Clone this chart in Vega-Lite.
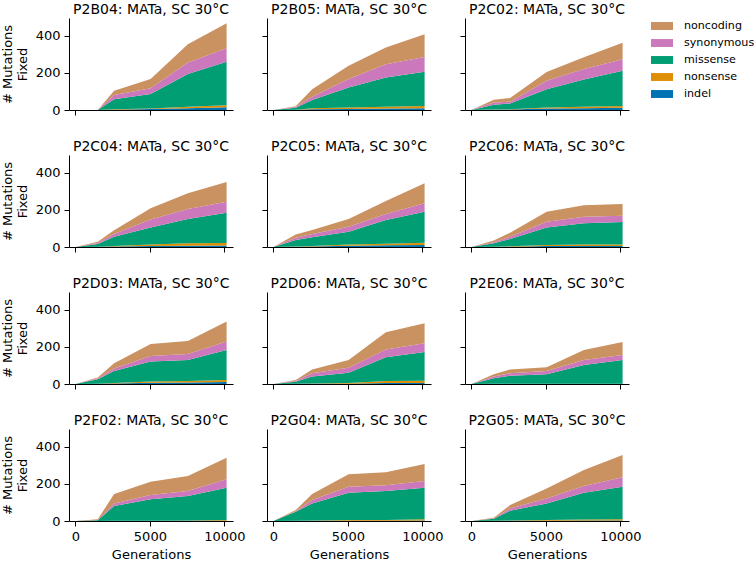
{
"$schema": "https://vega.github.io/schema/vega-lite/v6.json",
"padding": {"left": 1, "top": 3, "right": 0, "bottom": 0},
"background": "white",
"data": {"values": [
{"p":"P2B04","g":0,"t":"indel","v":0},{"p":"P2B04","g":0,"t":"nonsense","v":0},{"p":"P2B04","g":0,"t":"missense","v":0},{"p":"P2B04","g":0,"t":"synonymous","v":0},{"p":"P2B04","g":0,"t":"noncoding","v":0},
{"p":"P2B04","g":1500,"t":"indel","v":0},{"p":"P2B04","g":1500,"t":"nonsense","v":0},{"p":"P2B04","g":1500,"t":"missense","v":0},{"p":"P2B04","g":1500,"t":"synonymous","v":0},{"p":"P2B04","g":1500,"t":"noncoding","v":0},
{"p":"P2B04","g":2600,"t":"indel","v":2},{"p":"P2B04","g":2600,"t":"nonsense","v":2},{"p":"P2B04","g":2600,"t":"missense","v":54},{"p":"P2B04","g":2600,"t":"synonymous","v":23},{"p":"P2B04","g":2600,"t":"noncoding","v":23},
{"p":"P2B04","g":5050,"t":"indel","v":5},{"p":"P2B04","g":5050,"t":"nonsense","v":3},{"p":"P2B04","g":5050,"t":"missense","v":78},{"p":"P2B04","g":5050,"t":"synonymous","v":31},{"p":"P2B04","g":5050,"t":"noncoding","v":50},
{"p":"P2B04","g":7550,"t":"indel","v":10},{"p":"P2B04","g":7550,"t":"nonsense","v":8},{"p":"P2B04","g":7550,"t":"missense","v":176},{"p":"P2B04","g":7550,"t":"synonymous","v":62},{"p":"P2B04","g":7550,"t":"noncoding","v":99},
{"p":"P2B04","g":10150,"t":"indel","v":15},{"p":"P2B04","g":10150,"t":"nonsense","v":10},{"p":"P2B04","g":10150,"t":"missense","v":236},{"p":"P2B04","g":10150,"t":"synonymous","v":72},{"p":"P2B04","g":10150,"t":"noncoding","v":135},

{"p":"P2B05","g":0,"t":"indel","v":0},{"p":"P2B05","g":0,"t":"nonsense","v":0},{"p":"P2B05","g":0,"t":"missense","v":0},{"p":"P2B05","g":0,"t":"synonymous","v":0},{"p":"P2B05","g":0,"t":"noncoding","v":0},
{"p":"P2B05","g":1500,"t":"indel","v":1},{"p":"P2B05","g":1500,"t":"nonsense","v":1},{"p":"P2B05","g":1500,"t":"missense","v":10},{"p":"P2B05","g":1500,"t":"synonymous","v":4},{"p":"P2B05","g":1500,"t":"noncoding","v":4},
{"p":"P2B05","g":2600,"t":"indel","v":4},{"p":"P2B05","g":2600,"t":"nonsense","v":5},{"p":"P2B05","g":2600,"t":"missense","v":45},{"p":"P2B05","g":2600,"t":"synonymous","v":18},{"p":"P2B05","g":2600,"t":"noncoding","v":40},
{"p":"P2B05","g":5050,"t":"indel","v":6},{"p":"P2B05","g":5050,"t":"nonsense","v":7},{"p":"P2B05","g":5050,"t":"missense","v":109},{"p":"P2B05","g":5050,"t":"synonymous","v":45},{"p":"P2B05","g":5050,"t":"noncoding","v":72},
{"p":"P2B05","g":7550,"t":"indel","v":8},{"p":"P2B05","g":7550,"t":"nonsense","v":9},{"p":"P2B05","g":7550,"t":"missense","v":158},{"p":"P2B05","g":7550,"t":"synonymous","v":72},{"p":"P2B05","g":7550,"t":"noncoding","v":90},
{"p":"P2B05","g":10150,"t":"indel","v":10},{"p":"P2B05","g":10150,"t":"nonsense","v":12},{"p":"P2B05","g":10150,"t":"missense","v":185},{"p":"P2B05","g":10150,"t":"synonymous","v":79},{"p":"P2B05","g":10150,"t":"noncoding","v":123},

{"p":"P2C02","g":0,"t":"indel","v":0},{"p":"P2C02","g":0,"t":"nonsense","v":0},{"p":"P2C02","g":0,"t":"missense","v":0},{"p":"P2C02","g":0,"t":"synonymous","v":0},{"p":"P2C02","g":0,"t":"noncoding","v":0},
{"p":"P2C02","g":1500,"t":"indel","v":2},{"p":"P2C02","g":1500,"t":"nonsense","v":1},{"p":"P2C02","g":1500,"t":"missense","v":25},{"p":"P2C02","g":1500,"t":"synonymous","v":12},{"p":"P2C02","g":1500,"t":"noncoding","v":15},
{"p":"P2C02","g":2600,"t":"indel","v":3},{"p":"P2C02","g":2600,"t":"nonsense","v":1},{"p":"P2C02","g":2600,"t":"missense","v":31},{"p":"P2C02","g":2600,"t":"synonymous","v":10},{"p":"P2C02","g":2600,"t":"noncoding","v":20},
{"p":"P2C02","g":5050,"t":"indel","v":8},{"p":"P2C02","g":5050,"t":"nonsense","v":5},{"p":"P2C02","g":5050,"t":"missense","v":99},{"p":"P2C02","g":5050,"t":"synonymous","v":46},{"p":"P2C02","g":5050,"t":"noncoding","v":47},
{"p":"P2C02","g":7550,"t":"indel","v":10},{"p":"P2C02","g":7550,"t":"nonsense","v":7},{"p":"P2C02","g":7550,"t":"missense","v":148},{"p":"P2C02","g":7550,"t":"synonymous","v":57},{"p":"P2C02","g":7550,"t":"noncoding","v":63},
{"p":"P2C02","g":10150,"t":"indel","v":12},{"p":"P2C02","g":10150,"t":"nonsense","v":10},{"p":"P2C02","g":10150,"t":"missense","v":190},{"p":"P2C02","g":10150,"t":"synonymous","v":62},{"p":"P2C02","g":10150,"t":"noncoding","v":89},

{"p":"P2C04","g":0,"t":"indel","v":0},{"p":"P2C04","g":0,"t":"nonsense","v":0},{"p":"P2C04","g":0,"t":"missense","v":0},{"p":"P2C04","g":0,"t":"synonymous","v":0},{"p":"P2C04","g":0,"t":"noncoding","v":0},
{"p":"P2C04","g":1500,"t":"indel","v":1},{"p":"P2C04","g":1500,"t":"nonsense","v":1},{"p":"P2C04","g":1500,"t":"missense","v":14},{"p":"P2C04","g":1500,"t":"synonymous","v":6},{"p":"P2C04","g":1500,"t":"noncoding","v":7},
{"p":"P2C04","g":2600,"t":"indel","v":3},{"p":"P2C04","g":2600,"t":"nonsense","v":3},{"p":"P2C04","g":2600,"t":"missense","v":49},{"p":"P2C04","g":2600,"t":"synonymous","v":15},{"p":"P2C04","g":2600,"t":"noncoding","v":20},
{"p":"P2C04","g":5050,"t":"indel","v":5},{"p":"P2C04","g":5050,"t":"nonsense","v":9},{"p":"P2C04","g":5050,"t":"missense","v":92},{"p":"P2C04","g":5050,"t":"synonymous","v":43},{"p":"P2C04","g":5050,"t":"noncoding","v":60},
{"p":"P2C04","g":7550,"t":"indel","v":7},{"p":"P2C04","g":7550,"t":"nonsense","v":13},{"p":"P2C04","g":7550,"t":"missense","v":131},{"p":"P2C04","g":7550,"t":"synonymous","v":54},{"p":"P2C04","g":7550,"t":"noncoding","v":85},
{"p":"P2C04","g":10150,"t":"indel","v":8},{"p":"P2C04","g":10150,"t":"nonsense","v":14},{"p":"P2C04","g":10150,"t":"missense","v":163},{"p":"P2C04","g":10150,"t":"synonymous","v":60},{"p":"P2C04","g":10150,"t":"noncoding","v":106},

{"p":"P2C05","g":0,"t":"indel","v":0},{"p":"P2C05","g":0,"t":"nonsense","v":0},{"p":"P2C05","g":0,"t":"missense","v":0},{"p":"P2C05","g":0,"t":"synonymous","v":0},{"p":"P2C05","g":0,"t":"noncoding","v":0},
{"p":"P2C05","g":1500,"t":"indel","v":2},{"p":"P2C05","g":1500,"t":"nonsense","v":1},{"p":"P2C05","g":1500,"t":"missense","v":35},{"p":"P2C05","g":1500,"t":"synonymous","v":12},{"p":"P2C05","g":1500,"t":"noncoding","v":18},
{"p":"P2C05","g":2600,"t":"indel","v":3},{"p":"P2C05","g":2600,"t":"nonsense","v":2},{"p":"P2C05","g":2600,"t":"missense","v":47},{"p":"P2C05","g":2600,"t":"synonymous","v":18},{"p":"P2C05","g":2600,"t":"noncoding","v":22},
{"p":"P2C05","g":5050,"t":"indel","v":7},{"p":"P2C05","g":5050,"t":"nonsense","v":6},{"p":"P2C05","g":5050,"t":"missense","v":70},{"p":"P2C05","g":5050,"t":"synonymous","v":27},{"p":"P2C05","g":5050,"t":"noncoding","v":41},
{"p":"P2C05","g":7550,"t":"indel","v":9},{"p":"P2C05","g":7550,"t":"nonsense","v":9},{"p":"P2C05","g":7550,"t":"missense","v":128},{"p":"P2C05","g":7550,"t":"synonymous","v":32},{"p":"P2C05","g":7550,"t":"noncoding","v":70},
{"p":"P2C05","g":10150,"t":"indel","v":11},{"p":"P2C05","g":10150,"t":"nonsense","v":12},{"p":"P2C05","g":10150,"t":"missense","v":168},{"p":"P2C05","g":10150,"t":"synonymous","v":45},{"p":"P2C05","g":10150,"t":"noncoding","v":108},

{"p":"P2C06","g":0,"t":"indel","v":0},{"p":"P2C06","g":0,"t":"nonsense","v":0},{"p":"P2C06","g":0,"t":"missense","v":0},{"p":"P2C06","g":0,"t":"synonymous","v":0},{"p":"P2C06","g":0,"t":"noncoding","v":0},
{"p":"P2C06","g":1500,"t":"indel","v":1},{"p":"P2C06","g":1500,"t":"nonsense","v":1},{"p":"P2C06","g":1500,"t":"missense","v":18},{"p":"P2C06","g":1500,"t":"synonymous","v":5},{"p":"P2C06","g":1500,"t":"noncoding","v":10},
{"p":"P2C06","g":2600,"t":"indel","v":2},{"p":"P2C06","g":2600,"t":"nonsense","v":2},{"p":"P2C06","g":2600,"t":"missense","v":39},{"p":"P2C06","g":2600,"t":"synonymous","v":13},{"p":"P2C06","g":2600,"t":"noncoding","v":21},
{"p":"P2C06","g":5050,"t":"indel","v":5},{"p":"P2C06","g":5050,"t":"nonsense","v":6},{"p":"P2C06","g":5050,"t":"missense","v":95},{"p":"P2C06","g":5050,"t":"synonymous","v":31},{"p":"P2C06","g":5050,"t":"noncoding","v":54},
{"p":"P2C06","g":7550,"t":"indel","v":5},{"p":"P2C06","g":7550,"t":"nonsense","v":8},{"p":"P2C06","g":7550,"t":"missense","v":115},{"p":"P2C06","g":7550,"t":"synonymous","v":36},{"p":"P2C06","g":7550,"t":"noncoding","v":61},
{"p":"P2C06","g":10150,"t":"indel","v":5},{"p":"P2C06","g":10150,"t":"nonsense","v":9},{"p":"P2C06","g":10150,"t":"missense","v":121},{"p":"P2C06","g":10150,"t":"synonymous","v":34},{"p":"P2C06","g":10150,"t":"noncoding","v":63},

{"p":"P2D03","g":0,"t":"indel","v":0},{"p":"P2D03","g":0,"t":"nonsense","v":0},{"p":"P2D03","g":0,"t":"missense","v":0},{"p":"P2D03","g":0,"t":"synonymous","v":0},{"p":"P2D03","g":0,"t":"noncoding","v":0},
{"p":"P2D03","g":1500,"t":"indel","v":1},{"p":"P2D03","g":1500,"t":"nonsense","v":1},{"p":"P2D03","g":1500,"t":"missense","v":24},{"p":"P2D03","g":1500,"t":"synonymous","v":4},{"p":"P2D03","g":1500,"t":"noncoding","v":5},
{"p":"P2D03","g":2600,"t":"indel","v":3},{"p":"P2D03","g":2600,"t":"nonsense","v":3},{"p":"P2D03","g":2600,"t":"missense","v":64},{"p":"P2D03","g":2600,"t":"synonymous","v":14},{"p":"P2D03","g":2600,"t":"noncoding","v":28},
{"p":"P2D03","g":5050,"t":"indel","v":7},{"p":"P2D03","g":5050,"t":"nonsense","v":6},{"p":"P2D03","g":5050,"t":"missense","v":108},{"p":"P2D03","g":5050,"t":"synonymous","v":30},{"p":"P2D03","g":5050,"t":"noncoding","v":65},
{"p":"P2D03","g":7550,"t":"indel","v":8},{"p":"P2D03","g":7550,"t":"nonsense","v":8},{"p":"P2D03","g":7550,"t":"missense","v":114},{"p":"P2D03","g":7550,"t":"synonymous","v":32},{"p":"P2D03","g":7550,"t":"noncoding","v":70},
{"p":"P2D03","g":10150,"t":"indel","v":11},{"p":"P2D03","g":10150,"t":"nonsense","v":11},{"p":"P2D03","g":10150,"t":"missense","v":162},{"p":"P2D03","g":10150,"t":"synonymous","v":46},{"p":"P2D03","g":10150,"t":"noncoding","v":107},

{"p":"P2D06","g":0,"t":"indel","v":0},{"p":"P2D06","g":0,"t":"nonsense","v":0},{"p":"P2D06","g":0,"t":"missense","v":0},{"p":"P2D06","g":0,"t":"synonymous","v":0},{"p":"P2D06","g":0,"t":"noncoding","v":0},
{"p":"P2D06","g":1500,"t":"indel","v":1},{"p":"P2D06","g":1500,"t":"nonsense","v":1},{"p":"P2D06","g":1500,"t":"missense","v":10},{"p":"P2D06","g":1500,"t":"synonymous","v":4},{"p":"P2D06","g":1500,"t":"noncoding","v":6},
{"p":"P2D06","g":2600,"t":"indel","v":1},{"p":"P2D06","g":2600,"t":"nonsense","v":2},{"p":"P2D06","g":2600,"t":"missense","v":37},{"p":"P2D06","g":2600,"t":"synonymous","v":18},{"p":"P2D06","g":2600,"t":"noncoding","v":21},
{"p":"P2D06","g":5050,"t":"indel","v":2},{"p":"P2D06","g":5050,"t":"nonsense","v":3},{"p":"P2D06","g":5050,"t":"missense","v":56},{"p":"P2D06","g":5050,"t":"synonymous","v":27},{"p":"P2D06","g":5050,"t":"noncoding","v":42},
{"p":"P2D06","g":7550,"t":"indel","v":6},{"p":"P2D06","g":7550,"t":"nonsense","v":10},{"p":"P2D06","g":7550,"t":"missense","v":128},{"p":"P2D06","g":7550,"t":"synonymous","v":43},{"p":"P2D06","g":7550,"t":"noncoding","v":92},
{"p":"P2D06","g":10150,"t":"indel","v":6},{"p":"P2D06","g":10150,"t":"nonsense","v":12},{"p":"P2D06","g":10150,"t":"missense","v":155},{"p":"P2D06","g":10150,"t":"synonymous","v":47},{"p":"P2D06","g":10150,"t":"noncoding","v":108},

{"p":"P2E06","g":0,"t":"indel","v":0},{"p":"P2E06","g":0,"t":"nonsense","v":0},{"p":"P2E06","g":0,"t":"missense","v":0},{"p":"P2E06","g":0,"t":"synonymous","v":0},{"p":"P2E06","g":0,"t":"noncoding","v":0},
{"p":"P2E06","g":1500,"t":"indel","v":1},{"p":"P2E06","g":1500,"t":"nonsense","v":0},{"p":"P2E06","g":1500,"t":"missense","v":30},{"p":"P2E06","g":1500,"t":"synonymous","v":9},{"p":"P2E06","g":1500,"t":"noncoding","v":12},
{"p":"P2E06","g":2600,"t":"indel","v":1},{"p":"P2E06","g":2600,"t":"nonsense","v":1},{"p":"P2E06","g":2600,"t":"missense","v":43},{"p":"P2E06","g":2600,"t":"synonymous","v":13},{"p":"P2E06","g":2600,"t":"noncoding","v":21},
{"p":"P2E06","g":5050,"t":"indel","v":1},{"p":"P2E06","g":5050,"t":"nonsense","v":1},{"p":"P2E06","g":5050,"t":"missense","v":50},{"p":"P2E06","g":5050,"t":"synonymous","v":18},{"p":"P2E06","g":5050,"t":"noncoding","v":20},
{"p":"P2E06","g":7550,"t":"indel","v":1},{"p":"P2E06","g":7550,"t":"nonsense","v":1},{"p":"P2E06","g":7550,"t":"missense","v":101},{"p":"P2E06","g":7550,"t":"synonymous","v":27},{"p":"P2E06","g":7550,"t":"noncoding","v":54},
{"p":"P2E06","g":10150,"t":"indel","v":1},{"p":"P2E06","g":10150,"t":"nonsense","v":1},{"p":"P2E06","g":10150,"t":"missense","v":128},{"p":"P2E06","g":10150,"t":"synonymous","v":27},{"p":"P2E06","g":10150,"t":"noncoding","v":70},

{"p":"P2F02","g":0,"t":"indel","v":0},{"p":"P2F02","g":0,"t":"nonsense","v":0},{"p":"P2F02","g":0,"t":"missense","v":0},{"p":"P2F02","g":0,"t":"synonymous","v":0},{"p":"P2F02","g":0,"t":"noncoding","v":0},
{"p":"P2F02","g":1500,"t":"indel","v":0},{"p":"P2F02","g":1500,"t":"nonsense","v":0},{"p":"P2F02","g":1500,"t":"missense","v":4},{"p":"P2F02","g":1500,"t":"synonymous","v":1},{"p":"P2F02","g":1500,"t":"noncoding","v":4},
{"p":"P2F02","g":2600,"t":"indel","v":1},{"p":"P2F02","g":2600,"t":"nonsense","v":1},{"p":"P2F02","g":2600,"t":"missense","v":79},{"p":"P2F02","g":2600,"t":"synonymous","v":14},{"p":"P2F02","g":2600,"t":"noncoding","v":51},
{"p":"P2F02","g":5050,"t":"indel","v":1},{"p":"P2F02","g":5050,"t":"nonsense","v":1},{"p":"P2F02","g":5050,"t":"missense","v":115},{"p":"P2F02","g":5050,"t":"synonymous","v":23},{"p":"P2F02","g":5050,"t":"noncoding","v":72},
{"p":"P2F02","g":7550,"t":"indel","v":1},{"p":"P2F02","g":7550,"t":"nonsense","v":2},{"p":"P2F02","g":7550,"t":"missense","v":132},{"p":"P2F02","g":7550,"t":"synonymous","v":27},{"p":"P2F02","g":7550,"t":"noncoding","v":81},
{"p":"P2F02","g":10150,"t":"indel","v":2},{"p":"P2F02","g":10150,"t":"nonsense","v":3},{"p":"P2F02","g":10150,"t":"missense","v":175},{"p":"P2F02","g":10150,"t":"synonymous","v":45},{"p":"P2F02","g":10150,"t":"noncoding","v":117},

{"p":"P2G04","g":0,"t":"indel","v":0},{"p":"P2G04","g":0,"t":"nonsense","v":0},{"p":"P2G04","g":0,"t":"missense","v":0},{"p":"P2G04","g":0,"t":"synonymous","v":0},{"p":"P2G04","g":0,"t":"noncoding","v":0},
{"p":"P2G04","g":1500,"t":"indel","v":1},{"p":"P2G04","g":1500,"t":"nonsense","v":1},{"p":"P2G04","g":1500,"t":"missense","v":48},{"p":"P2G04","g":1500,"t":"synonymous","v":2},{"p":"P2G04","g":1500,"t":"noncoding","v":7},
{"p":"P2G04","g":2600,"t":"indel","v":1},{"p":"P2G04","g":2600,"t":"nonsense","v":2},{"p":"P2G04","g":2600,"t":"missense","v":92},{"p":"P2G04","g":2600,"t":"synonymous","v":18},{"p":"P2G04","g":2600,"t":"noncoding","v":33},
{"p":"P2G04","g":5050,"t":"indel","v":2},{"p":"P2G04","g":5050,"t":"nonsense","v":3},{"p":"P2G04","g":5050,"t":"missense","v":148},{"p":"P2G04","g":5050,"t":"synonymous","v":32},{"p":"P2G04","g":5050,"t":"noncoding","v":67},
{"p":"P2G04","g":7550,"t":"indel","v":2},{"p":"P2G04","g":7550,"t":"nonsense","v":4},{"p":"P2G04","g":7550,"t":"missense","v":156},{"p":"P2G04","g":7550,"t":"synonymous","v":31},{"p":"P2G04","g":7550,"t":"noncoding","v":70},
{"p":"P2G04","g":10150,"t":"indel","v":3},{"p":"P2G04","g":10150,"t":"nonsense","v":6},{"p":"P2G04","g":10150,"t":"missense","v":171},{"p":"P2G04","g":10150,"t":"synonymous","v":36},{"p":"P2G04","g":10150,"t":"noncoding","v":92},

{"p":"P2G05","g":0,"t":"indel","v":0},{"p":"P2G05","g":0,"t":"nonsense","v":0},{"p":"P2G05","g":0,"t":"missense","v":0},{"p":"P2G05","g":0,"t":"synonymous","v":0},{"p":"P2G05","g":0,"t":"noncoding","v":0},
{"p":"P2G05","g":1500,"t":"indel","v":0},{"p":"P2G05","g":1500,"t":"nonsense","v":1},{"p":"P2G05","g":1500,"t":"missense","v":11},{"p":"P2G05","g":1500,"t":"synonymous","v":2},{"p":"P2G05","g":1500,"t":"noncoding","v":4},
{"p":"P2G05","g":2600,"t":"indel","v":1},{"p":"P2G05","g":2600,"t":"nonsense","v":2},{"p":"P2G05","g":2600,"t":"missense","v":53},{"p":"P2G05","g":2600,"t":"synonymous","v":12},{"p":"P2G05","g":2600,"t":"noncoding","v":18},
{"p":"P2G05","g":5050,"t":"indel","v":2},{"p":"P2G05","g":5050,"t":"nonsense","v":3},{"p":"P2G05","g":5050,"t":"missense","v":90},{"p":"P2G05","g":5050,"t":"synonymous","v":27},{"p":"P2G05","g":5050,"t":"noncoding","v":54},
{"p":"P2G05","g":7550,"t":"indel","v":3},{"p":"P2G05","g":7550,"t":"nonsense","v":5},{"p":"P2G05","g":7550,"t":"missense","v":145},{"p":"P2G05","g":7550,"t":"synonymous","v":36},{"p":"P2G05","g":7550,"t":"noncoding","v":86},
{"p":"P2G05","g":10150,"t":"indel","v":3},{"p":"P2G05","g":10150,"t":"nonsense","v":6},{"p":"P2G05","g":10150,"t":"missense","v":176},{"p":"P2G05","g":10150,"t":"synonymous","v":51},{"p":"P2G05","g":10150,"t":"noncoding","v":120}
]},
"transform": [{"calculate": "indexof(['indel','nonsense','missense','synonymous','noncoding'], datum.t)", "as": "k"}],
"columns": 3,
"spacing": {"row": 45, "column": 34},
"bounds": "flush",
"concat": [
{"title": "P2B04: MATa, SC 30°C", "width": 164, "height": 92, "transform": [{"filter": "datum.p === 'P2B04'"}], "mark": "area",
 "encoding": {"x": {"field": "g", "type": "quantitative", "scale": {"domain": [-430, 10580], "nice": false, "zero": false}, "axis": {"values": [0, 5000, 10000], "labels": false, "title": null}},
  "y": {"field": "v", "type": "quantitative", "stack": "zero", "scale": {"domain": [0, 497], "nice": false}, "axis": {"values": [0, 200, 400], "title": ["# Mutations", "Fixed"]}},
  "color": {"field": "t", "type": "nominal", "scale": {"domain": ["noncoding", "synonymous", "missense", "nonsense", "indel"], "range": ["#ca9161", "#cc78bc", "#029e73", "#de8f05", "#0173b2"]}, "legend": {"title": null, "orient": "none", "legendX": 582, "legendY": -3}},
  "order": {"field": "k", "type": "quantitative"}}},
{"title": "P2B05: MATa, SC 30°C", "width": 164, "height": 92, "transform": [{"filter": "datum.p === 'P2B05'"}], "mark": "area",
 "encoding": {"x": {"field": "g", "type": "quantitative", "scale": {"domain": [-430, 10580], "nice": false, "zero": false}, "axis": {"values": [0, 5000, 10000], "labels": false, "title": null}},
  "y": {"field": "v", "type": "quantitative", "stack": "zero", "scale": {"domain": [0, 497], "nice": false}, "axis": {"values": [0, 200, 400], "labels": false, "title": null}},
  "color": {"field": "t", "type": "nominal", "scale": {"domain": ["noncoding", "synonymous", "missense", "nonsense", "indel"], "range": ["#ca9161", "#cc78bc", "#029e73", "#de8f05", "#0173b2"]}, "legend": {"title": null, "orient": "none", "legendX": 582, "legendY": -3}},
  "order": {"field": "k", "type": "quantitative"}}},
{"title": "P2C02: MATa, SC 30°C", "width": 164, "height": 92, "transform": [{"filter": "datum.p === 'P2C02'"}], "mark": "area",
 "encoding": {"x": {"field": "g", "type": "quantitative", "scale": {"domain": [-430, 10580], "nice": false, "zero": false}, "axis": {"values": [0, 5000, 10000], "labels": false, "title": null}},
  "y": {"field": "v", "type": "quantitative", "stack": "zero", "scale": {"domain": [0, 497], "nice": false}, "axis": {"values": [0, 200, 400], "labels": false, "title": null}},
  "color": {"field": "t", "type": "nominal", "scale": {"domain": ["noncoding", "synonymous", "missense", "nonsense", "indel"], "range": ["#ca9161", "#cc78bc", "#029e73", "#de8f05", "#0173b2"]}, "legend": {"title": null, "orient": "none", "legendX": 582, "legendY": -3}},
  "order": {"field": "k", "type": "quantitative"}}},
{"title": "P2C04: MATa, SC 30°C", "width": 164, "height": 92, "transform": [{"filter": "datum.p === 'P2C04'"}], "mark": "area",
 "encoding": {"x": {"field": "g", "type": "quantitative", "scale": {"domain": [-430, 10580], "nice": false, "zero": false}, "axis": {"values": [0, 5000, 10000], "labels": false, "title": null}},
  "y": {"field": "v", "type": "quantitative", "stack": "zero", "scale": {"domain": [0, 497], "nice": false}, "axis": {"values": [0, 200, 400], "title": ["# Mutations", "Fixed"]}},
  "color": {"field": "t", "type": "nominal", "scale": {"domain": ["noncoding", "synonymous", "missense", "nonsense", "indel"], "range": ["#ca9161", "#cc78bc", "#029e73", "#de8f05", "#0173b2"]}, "legend": {"title": null, "orient": "none", "legendX": 582, "legendY": -3}},
  "order": {"field": "k", "type": "quantitative"}}},
{"title": "P2C05: MATa, SC 30°C", "width": 164, "height": 92, "transform": [{"filter": "datum.p === 'P2C05'"}], "mark": "area",
 "encoding": {"x": {"field": "g", "type": "quantitative", "scale": {"domain": [-430, 10580], "nice": false, "zero": false}, "axis": {"values": [0, 5000, 10000], "labels": false, "title": null}},
  "y": {"field": "v", "type": "quantitative", "stack": "zero", "scale": {"domain": [0, 497], "nice": false}, "axis": {"values": [0, 200, 400], "labels": false, "title": null}},
  "color": {"field": "t", "type": "nominal", "scale": {"domain": ["noncoding", "synonymous", "missense", "nonsense", "indel"], "range": ["#ca9161", "#cc78bc", "#029e73", "#de8f05", "#0173b2"]}, "legend": {"title": null, "orient": "none", "legendX": 582, "legendY": -3}},
  "order": {"field": "k", "type": "quantitative"}}},
{"title": "P2C06: MATa, SC 30°C", "width": 164, "height": 92, "transform": [{"filter": "datum.p === 'P2C06'"}], "mark": "area",
 "encoding": {"x": {"field": "g", "type": "quantitative", "scale": {"domain": [-430, 10580], "nice": false, "zero": false}, "axis": {"values": [0, 5000, 10000], "labels": false, "title": null}},
  "y": {"field": "v", "type": "quantitative", "stack": "zero", "scale": {"domain": [0, 497], "nice": false}, "axis": {"values": [0, 200, 400], "labels": false, "title": null}},
  "color": {"field": "t", "type": "nominal", "scale": {"domain": ["noncoding", "synonymous", "missense", "nonsense", "indel"], "range": ["#ca9161", "#cc78bc", "#029e73", "#de8f05", "#0173b2"]}, "legend": {"title": null, "orient": "none", "legendX": 582, "legendY": -3}},
  "order": {"field": "k", "type": "quantitative"}}},
{"title": "P2D03: MATa, SC 30°C", "width": 164, "height": 92, "transform": [{"filter": "datum.p === 'P2D03'"}], "mark": "area",
 "encoding": {"x": {"field": "g", "type": "quantitative", "scale": {"domain": [-430, 10580], "nice": false, "zero": false}, "axis": {"values": [0, 5000, 10000], "labels": false, "title": null}},
  "y": {"field": "v", "type": "quantitative", "stack": "zero", "scale": {"domain": [0, 497], "nice": false}, "axis": {"values": [0, 200, 400], "title": ["# Mutations", "Fixed"]}},
  "color": {"field": "t", "type": "nominal", "scale": {"domain": ["noncoding", "synonymous", "missense", "nonsense", "indel"], "range": ["#ca9161", "#cc78bc", "#029e73", "#de8f05", "#0173b2"]}, "legend": {"title": null, "orient": "none", "legendX": 582, "legendY": -3}},
  "order": {"field": "k", "type": "quantitative"}}},
{"title": "P2D06: MATa, SC 30°C", "width": 164, "height": 92, "transform": [{"filter": "datum.p === 'P2D06'"}], "mark": "area",
 "encoding": {"x": {"field": "g", "type": "quantitative", "scale": {"domain": [-430, 10580], "nice": false, "zero": false}, "axis": {"values": [0, 5000, 10000], "labels": false, "title": null}},
  "y": {"field": "v", "type": "quantitative", "stack": "zero", "scale": {"domain": [0, 497], "nice": false}, "axis": {"values": [0, 200, 400], "labels": false, "title": null}},
  "color": {"field": "t", "type": "nominal", "scale": {"domain": ["noncoding", "synonymous", "missense", "nonsense", "indel"], "range": ["#ca9161", "#cc78bc", "#029e73", "#de8f05", "#0173b2"]}, "legend": {"title": null, "orient": "none", "legendX": 582, "legendY": -3}},
  "order": {"field": "k", "type": "quantitative"}}},
{"title": "P2E06: MATa, SC 30°C", "width": 164, "height": 92, "transform": [{"filter": "datum.p === 'P2E06'"}], "mark": "area",
 "encoding": {"x": {"field": "g", "type": "quantitative", "scale": {"domain": [-430, 10580], "nice": false, "zero": false}, "axis": {"values": [0, 5000, 10000], "labels": false, "title": null}},
  "y": {"field": "v", "type": "quantitative", "stack": "zero", "scale": {"domain": [0, 497], "nice": false}, "axis": {"values": [0, 200, 400], "labels": false, "title": null}},
  "color": {"field": "t", "type": "nominal", "scale": {"domain": ["noncoding", "synonymous", "missense", "nonsense", "indel"], "range": ["#ca9161", "#cc78bc", "#029e73", "#de8f05", "#0173b2"]}, "legend": {"title": null, "orient": "none", "legendX": 582, "legendY": -3}},
  "order": {"field": "k", "type": "quantitative"}}},
{"title": "P2F02: MATa, SC 30°C", "width": 164, "height": 92, "transform": [{"filter": "datum.p === 'P2F02'"}], "mark": "area",
 "encoding": {"x": {"field": "g", "type": "quantitative", "scale": {"domain": [-430, 10580], "nice": false, "zero": false}, "axis": {"values": [0, 5000, 10000], "title": "Generations"}},
  "y": {"field": "v", "type": "quantitative", "stack": "zero", "scale": {"domain": [0, 497], "nice": false}, "axis": {"values": [0, 200, 400], "title": ["# Mutations", "Fixed"]}},
  "color": {"field": "t", "type": "nominal", "scale": {"domain": ["noncoding", "synonymous", "missense", "nonsense", "indel"], "range": ["#ca9161", "#cc78bc", "#029e73", "#de8f05", "#0173b2"]}, "legend": {"title": null, "orient": "none", "legendX": 582, "legendY": -3}},
  "order": {"field": "k", "type": "quantitative"}}},
{"title": "P2G04: MATa, SC 30°C", "width": 164, "height": 92, "transform": [{"filter": "datum.p === 'P2G04'"}], "mark": "area",
 "encoding": {"x": {"field": "g", "type": "quantitative", "scale": {"domain": [-430, 10580], "nice": false, "zero": false}, "axis": {"values": [0, 5000, 10000], "title": "Generations"}},
  "y": {"field": "v", "type": "quantitative", "stack": "zero", "scale": {"domain": [0, 497], "nice": false}, "axis": {"values": [0, 200, 400], "labels": false, "title": null}},
  "color": {"field": "t", "type": "nominal", "scale": {"domain": ["noncoding", "synonymous", "missense", "nonsense", "indel"], "range": ["#ca9161", "#cc78bc", "#029e73", "#de8f05", "#0173b2"]}, "legend": {"title": null, "orient": "none", "legendX": 582, "legendY": -3}},
  "order": {"field": "k", "type": "quantitative"}}},
{"title": "P2G05: MATa, SC 30°C", "width": 164, "height": 92, "transform": [{"filter": "datum.p === 'P2G05'"}], "mark": "area",
 "encoding": {"x": {"field": "g", "type": "quantitative", "scale": {"domain": [-430, 10580], "nice": false, "zero": false}, "axis": {"values": [0, 5000, 10000], "title": "Generations"}},
  "y": {"field": "v", "type": "quantitative", "stack": "zero", "scale": {"domain": [0, 497], "nice": false}, "axis": {"values": [0, 200, 400], "labels": false, "title": null}},
  "color": {"field": "t", "type": "nominal", "scale": {"domain": ["noncoding", "synonymous", "missense", "nonsense", "indel"], "range": ["#ca9161", "#cc78bc", "#029e73", "#de8f05", "#0173b2"]}, "legend": {"title": null, "orient": "none", "legendX": 582, "legendY": -3}},
  "order": {"field": "k", "type": "quantitative"}}}
],
"config": {
 "font": "DejaVu Sans",
 "view": {"stroke": null},
 "title": {"fontSize": 14, "fontWeight": "normal", "color": "#000", "offset": 1, "anchor": "middle", "font": "DejaVu Sans"},
 "axis": {"grid": false, "domainColor": "#000", "domainWidth": 1, "tickColor": "#000", "tickWidth": 1, "tickSize": 5, "labelFontSize": 13, "labelColor": "#000", "labelPadding": 4, "labelFlush": false, "titleFontSize": 13, "titleFontWeight": "normal", "titleColor": "#000", "titlePadding": 5},
 "axisX": {"format": "d"},
 "axisY": {"titleLineHeight": 15, "titlePadding": 6},
 "legend": {"labelFontSize": 11.1, "labelColor": "#000", "labelLimit": 200, "symbolType": "M-1,-0.36H1V0.36H-1Z", "symbolSize": 484, "symbolStrokeWidth": 0, "symbolOpacity": 1, "labelOffset": 11, "rowPadding": -2, "padding": 0}
}
}
